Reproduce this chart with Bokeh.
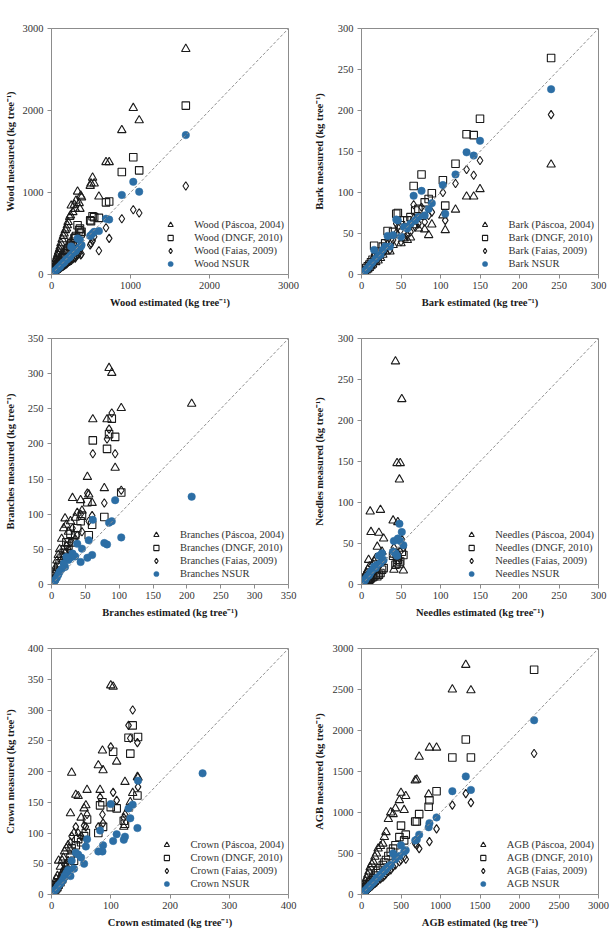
from bokeh.plotting import figure
from bokeh.layouts import column, row
from bokeh.models import Range1d, FixedTicker, Legend, LegendItem, Slope
from bokeh.embed import file_html
from bokeh.resources import INLINE

nan = float("nan")

# ---- Wood (kg tree-1): estimated value per tree and the four measured/predicted series
wood_est = [1700, 1110, 1035, 890, 730, 690, 600, 540, 520, 500, 490, 380, 370, 360, 350, 330, 310, 300, 290, 270,
            250, 240, 230, 210, 200, 190, 175, 160, 150, 135, 120, 110, 100, 90, 80, 70, 60, 50, 40, 30, 22, 15, 10, 6]
wood_pascoa = [2750, 1880, 2030, 1760, 1370, 1370, 950, 1110, 1180, 1110, 1080, 940, 960, 800, 870, 1010, 900, 800, 850, 760,
               840, 720, 700, 640, 600, 560, 540, 500, 470, 430, 380, 340, 310, 280, 250, 220, 190, 160, 120, 90, 65, 45, 30, 18]
wood_dngf = [2060, 1270, 1430, 1250, 890, 880, 690, 700, 710, 650, 660, 520, 500, 560, 540, 600, 470, 450, 440, 400,
             380, 360, 340, 320, 300, 280, 260, 240, 220, 200, 180, 160, 150, 130, 115, 100, 88, 72, 58, 44, 32, 22, 15, 9]
wood_faias = [1080, 750, 790, 680, 440, 570, 290, 460, 410, 380, 360, 250, 240, 300, 260, 240, 220, 200, 210, 190,
              170, 180, 160, 150, 140, 130, 120, 110, 100, 95, 85, 75, 70, 62, 55, 48, 42, 35, 28, 20, 15, 10, 7, 4]
wood_nsur = [1700, 1010, 1130, 970, 670, 680, 530, 520, 500, 480, 470, 360, 340, 420, 330, 440, 290, 280, 300, 260,
             340, 230, 210, 200, 190, 180, 170, 150, 140, 130, 115, 100, 95, 85, 75, 65, 55, 48, 38, 28, 20, 14, 9, 5]

# ---- Bark
bark_est = [240, 150, 142, 133, 119, 106, 103, 89, 85, 80, 76, 72, 68, 66, 62, 58, 54, 50, 46, 44,
            40, 36, 33, 30, 27, 24, 21, 18, 16, 14, 12, 10, 8, 6, 4, 3]
bark_pascoa = [134, 104, 95, 95, 79, 54, 72, 61, 48, 55, 70, 56, 60, 68, 45, 42, 44, 38, 48, 50,
               36, 28, 36, 28, 24, 20, 17, 15, 22, 12, 10, 8, 6, 5, 3, 2]
bark_dngf = [264, 190, 170, 171, 135, 84, 115, 99, 92, 88, 122, 80, 78, 108, 70, 66, 66, 60, 75, 74,
             52, 40, 53, 38, 34, 28, 24, 21, 35, 18, 15, 12, 10, 8, 5, 4]
bark_faias = [195, 139, 121, 128, 111, 66, 100, 76, 72, 64, 82, 62, 58, 85, 52, 48, 50, 40, 58, 62,
              42, 30, 42, 30, 26, 22, 19, 16, 24, 13, 11, 9, 7, 5, 3, 2.5]
bark_nsur = [226, 163, 145, 149, 122, 74, 109, 87, 80, 72, 102, 70, 66, 96, 62, 56, 58, 46, 66, 67,
             48, 34, 47, 34, 30, 24, 22, 19, 30, 15, 13, 10, 8, 6, 4, 3]

# ---- Branches
br_est = [207, 103, 94, 89, 85, 82, 78, 61, 60, 55, 53, 45, 43, 38, 35, 31, 28, 25, 22, 20,
          18, 15, 12, 10, 8, 6, 4, 2]
br_pascoa = [257, 251, 166, 301, 308, 235, 137, 235, 116, 128, 153, 105, 120, 102, 95, 123, 90, 75, 85, 94,
             80, 65, 50, 42, 34, 24, 15, 7]
br_dngf = [nan, 131, 210, 236, 214, 193, 96, 205, 85, 70, 117, 98, 90, 80, 70, 60, 72, 55, 60, 50,
           45, 38, 30, 25, 18, 12, 8, 4]
br_faias = [nan, 134, 186, 244, 221, 207, 116, 186, 98, 90, 130, 75, 100, 70, 65, 80, 60, 50, 55, 45,
            40, 33, 26, 20, 15, 10, 6, 3]
br_nsur = [125, 67, 120, 90, 88, 57, 59, 92, 42, 63, 38, 51, 32, 58, 40, 44, 38, 35, 39, 25,
           30, 22, 18, 14, 10, 7, 4, 2]

# ---- Needles
nd_est = [53, 51, 49, 48, 46, 45, 43, 41, 40, 28, 26, 24, 22, 20, 18, 16, 14, 12, 11, 10,
          9, 8, 6, 5, 4, 3, 2, 1]
nd_pascoa = [17, 226, 148, 128, 76, 148, 272, 18, 78, 56, 40, 91, 63, 46, 32, 28, 25, 64, 89, 22,
             30, 18, 14, 12, 10, 8, 6, 3]
nd_dngf = [36, 40, 28, 25, 30, 26, 24, 38, 35, 20, 18, 14, 12, 10, 12, 10, 9, 8, 7, 6,
           5, 5, 4, 3, 2.5, 2, 1.5, 1]
nd_faias = [45, 55, 40, 32, 38, 35, 33, 45, 40, 28, 30, 25, 22, 20, 17, 15, 14, 12, 11, 10,
            9, 8, 6, 5, 4, 3, 2, 1]
nd_nsur = [48, 64, 53, 74, 56, 35, 38, 53, 40, 30, 38, 26, 35, 24, 20, 22, 18, 16, 14, 12,
           11, 10, 8, 6, 5, 4, 3, 2]

# ---- Crown
cr_est = [255, 146, 145, 137, 133, 130, 124, 122, 110, 104, 100, 87, 86, 82, 79, 60, 58, 55, 50, 45,
          41, 38, 34, 32, 28, 25, 22, 20, 18, 15, 12, 10, 8, 6, 4, 2]
cr_pascoa = [nan, 190, 191, 165, 150, 140, 183, 110, 216, 338, 340, 202, 234, 170, 210, 170, 145, 140, 125, 160,
             162, 100, 198, 132, 80, 75, 70, 60, 55, 45, 55, 30, 25, 18, 12, 6]
cr_dngf = [nan, 256, 161, 275, 229, 255, 115, 120, 140, 232, 142, 110, 150, 145, 100, 122, 100, 95, 85, 90,
           80, 55, 75, 60, 45, 40, 35, 30, 25, 20, 16, 12, 10, 7, 5, 2]
cr_faias = [nan, 175, 247, 300, 254, 275, 130, 125, 153, 166, 240, 116, 130, 158, 110, 130, 110, 112, 95, 100,
            110, 70, 95, 85, 55, 50, 48, 40, 35, 30, 22, 18, 14, 10, 7, 3]
cr_nsur = [197, 185, 108, 146, 124, 140, 94, 89, 98, 87, 147, 80, 70, 104, 70, 90, 78, 50, 60, 65,
           68, 42, 55, 30, 40, 35, 30, 25, 22, 18, 15, 12, 9, 7, 5, 2]

# ---- Above-ground biomass
agb_est = [2185, 1385, 1320, 1150, 950, 860, 850, 730, 700, 680, 560, 540, 500, 480, 430, 400, 370, 340, 310, 290,
           270, 240, 210, 190, 170, 150, 130, 110, 95, 80, 65, 50, 40, 30, 20, 12, 6]
agb_pascoa = [nan, 2490, 2800, 2500, 1790, 1790, 1220, 1680, 1400, 1390, 1200, 1030, 1240, 1150, 1050, 980, 1000, 920, 760, 700,
              620, 590, 560, 500, 460, 400, 370, 330, 280, 240, 200, 160, 120, 90, 60, 35, 18]
agb_dngf = [2740, 1670, 1890, 1670, 1260, 1150, 1070, 980, 890, 890, 730, 660, 840, 700, 600, 560, 520, 470, 420, 390,
            360, 320, 290, 260, 230, 200, 175, 150, 130, 110, 90, 70, 55, 40, 27, 16, 8]
agb_faias = [1720, 1120, 1230, 1090, 800, 645, 830, 560, 600, 620, 430, 460, 420, 400, 360, 340, 300, 280, 250, 230,
             210, 190, 170, 150, 135, 120, 100, 85, 75, 62, 50, 38, 30, 22, 15, 9, 4]
agb_nsur = [2125, 1275, 1440, 1260, 940, 870, 820, 730, 670, 660, 540, 520, 600, 470, 430, 500, 360, 340, 310, 290,
            270, 240, 210, 200, 170, 150, 130, 110, 95, 80, 65, 50, 40, 30, 20, 12, 6]

wood_ticks = [0, 1000, 2000, 3000]
bark_ticks = [0, 50, 100, 150, 200, 250, 300]
branch_ticks = [0, 50, 100, 150, 200, 250, 300, 350]
needle_ticks = [0, 50, 100, 150, 200, 250, 300]
crown_xticks = [0, 100, 200, 300, 400]
crown_yticks = [0, 50, 100, 150, 200, 250, 300, 350, 400]
agb_ticks = [0, 500, 1000, 1500, 2000, 2500, 3000]

SERIF = "Liberation Serif"
INK = "#1a1a1a"
GREY = "#8c8c8c"
BLUE = "#2c6ea5"
UNIT = " (kg tree\u207b\u00b9)"


def make_panel(name, est, pascoa, dngf, faias, nsur, xmax, ymax, xticks, yticks,
               border_left, ylabel_gap):
    p = figure(frame_width=237, frame_height=246,
               x_range=Range1d(0, xmax), y_range=Range1d(0, ymax),
               min_border_left=border_left, min_border_right=16,
               min_border_top=28, min_border_bottom=36,
               output_backend="svg", toolbar_location=None)
    p.xgrid.visible = False
    p.ygrid.visible = False
    p.outline_line_color = GREY
    p.outline_line_width = 1

    # 1:1 reference line
    p.add_layout(Slope(gradient=1, y_intercept=0, line_color="#8f8f8f",
                       line_dash="3 2", line_width=1))

    r_p = p.scatter(est, pascoa, marker="triangle", size=8.5, fill_color=None,
                    line_color=INK, line_width=1.1)
    r_d = p.scatter(est, dngf, marker="square", size=7.5, fill_color=None,
                    line_color=INK, line_width=1.1)
    r_f = p.scatter(est, faias, marker="diamond", size=8.5, fill_color=None,
                    line_color=INK, line_width=1.1)
    r_n = p.scatter(est, nsur, marker="circle", size=7.5, fill_color=BLUE,
                    line_color=BLUE, line_width=0.5)

    legend = Legend(items=[
        LegendItem(label=f"{name} (Páscoa, 2004)", renderers=[r_p]),
        LegendItem(label=f"{name} (DNGF, 2010)", renderers=[r_d]),
        LegendItem(label=f"{name} (Faias, 2009)", renderers=[r_f]),
        LegendItem(label=f"{name} NSUR", renderers=[r_n]),
    ], location="bottom_right")
    legend.border_line_color = None
    legend.background_fill_alpha = 0
    legend.margin = 4
    legend.padding = 2
    legend.spacing = 0
    legend.label_height = 13
    legend.glyph_height = 13
    legend.glyph_width = 20
    legend.label_standoff = 14
    legend.label_text_font = SERIF
    legend.label_text_font_size = "10.5px"
    legend.label_text_color = "#333333"
    p.add_layout(legend)

    p.xaxis.ticker = FixedTicker(ticks=xticks)
    p.yaxis.ticker = FixedTicker(ticks=yticks)
    p.xaxis.axis_label = f"{name} estimated{UNIT}"
    p.yaxis.axis_label = f"{name} measured{UNIT}"
    for ax in (p.xaxis, p.yaxis):
        ax.axis_line_color = GREY
        ax.major_tick_line_color = GREY
        ax.major_tick_out = 4
        ax.major_tick_in = 0
        ax.minor_tick_line_color = None
        ax.major_label_text_font = SERIF
        ax.major_label_text_font_size = "10.5px"
        ax.major_label_text_color = "#333333"
        ax.axis_label_text_font = SERIF
        ax.axis_label_text_font_size = "10.5px"
        ax.axis_label_text_font_style = "bold"
        ax.axis_label_text_color = "#1a1a1a"
    p.xaxis.major_label_standoff = 3
    p.xaxis.axis_label_standoff = 5
    p.yaxis.major_label_standoff = 4
    p.yaxis.axis_label_standoff = ylabel_gap
    return p


LEFT, RIGHT = 51, 57

p_wood = make_panel("Wood", wood_est, wood_pascoa, wood_dngf, wood_faias, wood_nsur,
                    3000, 3000, wood_ticks, wood_ticks, LEFT, 4)
p_bark = make_panel("Bark", bark_est, bark_pascoa, bark_dngf, bark_faias, bark_nsur,
                    300, 300, bark_ticks, bark_ticks, RIGHT, 10)
p_branch = make_panel("Branches", br_est, br_pascoa, br_dngf, br_faias, br_nsur,
                      350, 350, branch_ticks, branch_ticks, LEFT, 9)
p_needle = make_panel("Needles", nd_est, nd_pascoa, nd_dngf, nd_faias, nd_nsur,
                      300, 300, needle_ticks, needle_ticks, RIGHT, 10)
p_crown = make_panel("Crown", cr_est, cr_pascoa, cr_dngf, cr_faias, cr_nsur,
                     400, 400, crown_xticks, crown_yticks, LEFT, 9)
p_agb = make_panel("AGB", agb_est, agb_pascoa, agb_dngf, agb_faias, agb_nsur,
                   3000, 3000, agb_ticks, agb_ticks, RIGHT, 5)

layout = column(row(p_wood, p_bark), row(p_branch, p_needle), row(p_crown, p_agb))

with open("out.html", "w") as f:
    f.write(file_html(layout, INLINE, title="Biomass: measured vs estimated"))
